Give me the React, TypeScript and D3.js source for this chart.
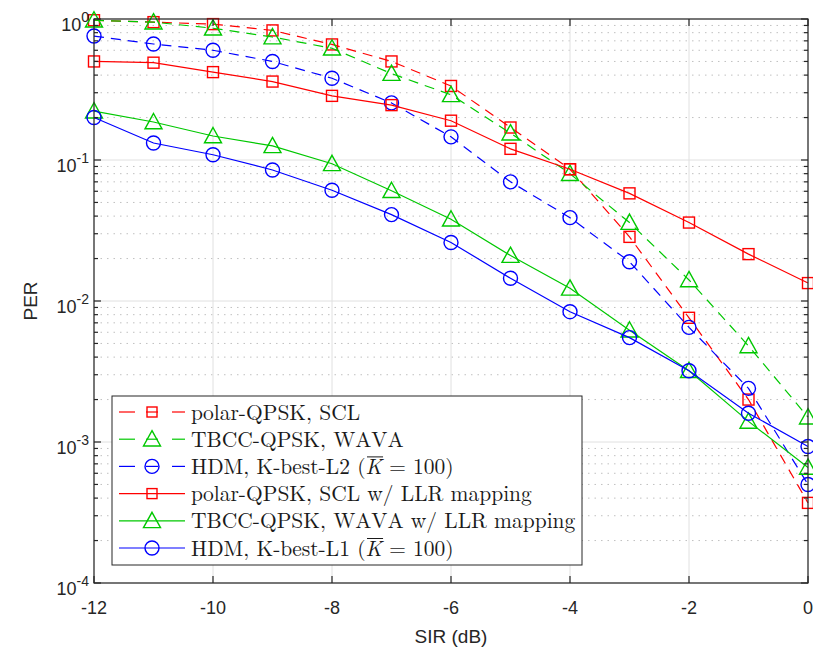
import React, { useEffect, useRef } from "react";
import * as d3 from "d3";

const snr = [-12, -11, -10, -9, -8, -7, -6, -5, -4, -3, -2, -1, 0];
const polarScl = [0.98, 0.95, 0.92, 0.83, 0.66, 0.5, 0.335, 0.17, 0.086, 0.0285, 0.0076, 0.002, 0.00037];
const tbccWava = [0.98, 0.95, 0.86, 0.745, 0.62, 0.41, 0.29, 0.155, 0.08, 0.036, 0.0141, 0.0048, 0.0015];
const hdmL2 = [0.757, 0.665, 0.6, 0.5, 0.38, 0.254, 0.146, 0.07, 0.039, 0.019, 0.0065, 0.0024, 0.0005];
const polarLlr = [0.5, 0.49, 0.42, 0.36, 0.285, 0.245, 0.19, 0.12, 0.086, 0.058, 0.036, 0.0215, 0.0134];
const tbccLlr = [0.222, 0.186, 0.148, 0.126, 0.094, 0.0605, 0.038, 0.021, 0.0123, 0.0062, 0.0032, 0.0014, 0.00066];
const hdmL1 = [0.2, 0.132, 0.109, 0.085, 0.061, 0.041, 0.026, 0.0145, 0.0084, 0.0055, 0.0032, 0.0016, 0.00093];

const xTicks = [-12, -10, -8, -6, -4, -2, 0];
const yExps = [0, -1, -2, -3, -4];

const seriesNames = [
  "polar-QPSK, SCL",
  "TBCC-QPSK, WAVA",
  "HDM, K-best-L2",
  "polar-QPSK, SCL w/ LLR mapping",
  "TBCC-QPSK, WAVA w/ LLR mapping",
  "HDM, K-best-L1",
];

const RED = "#ff0000";
const GREEN = "#00c800";
const BLUE = "#0000ff";

type S = { name: string; data: number[]; color: string; dashed: boolean; marker: string; kbar: boolean };
const series: S[] = [
  { name: seriesNames[0], data: polarScl, color: RED, dashed: true, marker: "square", kbar: false },
  { name: seriesNames[1], data: tbccWava, color: GREEN, dashed: true, marker: "triangle", kbar: false },
  { name: seriesNames[2], data: hdmL2, color: BLUE, dashed: true, marker: "circle", kbar: true },
  { name: seriesNames[3], data: polarLlr, color: RED, dashed: false, marker: "square", kbar: false },
  { name: seriesNames[4], data: tbccLlr, color: GREEN, dashed: false, marker: "triangle", kbar: false },
  { name: seriesNames[5], data: hdmL1, color: BLUE, dashed: false, marker: "circle", kbar: true },
];

const W = 813, H = 652;
const L = 94, R = 808, T = 19, B = 583;

function drawMarker(g: any, kind: string, x: number, y: number, color: string) {
  if (kind === "square") {
    g.append("rect").attr("x", x - 5.5).attr("y", y - 5.5).attr("width", 11).attr("height", 11)
      .attr("fill", "none").attr("stroke", color).attr("stroke-width", 1.4);
  } else if (kind === "circle") {
    g.append("circle").attr("cx", x).attr("cy", y).attr("r", 7)
      .attr("fill", "none").attr("stroke", color).attr("stroke-width", 1.4);
  } else {
    const s = 8.5;
    g.append("path").attr("d", `M${x},${y - s}L${x + s},${y + s * 0.8}L${x - s},${y + s * 0.8}Z`)
      .attr("fill", "none").attr("stroke", color).attr("stroke-width", 1.4);
  }
}

export default function App() {
  const ref = useRef<SVGSVGElement>(null);
  useEffect(() => {
    const svg = d3.select(ref.current);
    svg.selectAll("*").remove();
    const x = d3.scaleLinear().domain([-12, 0]).range([L, R]);
    const y = d3.scaleLog().domain([1e-4, 1]).range([B, T]);

    svg.append("rect").attr("width", W).attr("height", H).attr("fill", "#fff");

    // minor grid
    const minor: number[] = [];
    for (let e = -4; e < 0; e++) for (let m = 2; m <= 9; m++) minor.push(m * Math.pow(10, e));
    const grid = svg.append("g");
    minor.forEach((v) => {
      grid.append("line").attr("x1", L).attr("x2", R).attr("y1", y(v)).attr("y2", y(v))
        .attr("stroke", "#c0c0c0").attr("stroke-width", 1).attr("stroke-dasharray", "1.5,5");
    });
    yExps.forEach((e) => {
      grid.append("line").attr("x1", L).attr("x2", R).attr("y1", y(Math.pow(10, e))).attr("y2", y(Math.pow(10, e)))
        .attr("stroke", "#e0e0e0").attr("stroke-width", 1);
    });
    xTicks.forEach((t) => {
      grid.append("line").attr("x1", x(t)).attr("x2", x(t)).attr("y1", T).attr("y2", B)
        .attr("stroke", "#e0e0e0").attr("stroke-width", 1);
    });

    // series
    const line = d3.line<number>().x((_, i) => x(snr[i])).y((d) => y(d));
    const plot = svg.append("g");
    series.forEach((s) => {
      plot.append("path").attr("d", line(s.data) as string).attr("fill", "none")
        .attr("stroke", s.color).attr("stroke-width", 1.2)
        .attr("stroke-dasharray", s.dashed ? "10,7" : null);
      s.data.forEach((v, i) => drawMarker(plot, s.marker, x(snr[i]), y(v), s.color));
    });

    // axes box
    const ax = svg.append("g").attr("stroke", "#262626").attr("stroke-width", 1.2);
    ax.append("rect").attr("x", L).attr("y", T).attr("width", R - L).attr("height", B - T).attr("fill", "none");
    xTicks.forEach((t) => {
      ax.append("line").attr("x1", x(t)).attr("x2", x(t)).attr("y1", B).attr("y2", B - 7);
      ax.append("line").attr("x1", x(t)).attr("x2", x(t)).attr("y1", T).attr("y2", T + 7);
    });
    yExps.forEach((e) => {
      const yy = y(Math.pow(10, e));
      ax.append("line").attr("x1", L).attr("x2", L + 7).attr("y1", yy).attr("y2", yy);
      ax.append("line").attr("x1", R).attr("x2", R - 7).attr("y1", yy).attr("y2", yy);
    });
    minor.forEach((v) => {
      ax.append("line").attr("x1", L).attr("x2", L + 4).attr("y1", y(v)).attr("y2", y(v));
      ax.append("line").attr("x1", R).attr("x2", R - 4).attr("y1", y(v)).attr("y2", y(v));
    });

    // tick labels
    const tl = svg.append("g").attr("font-family", "'Liberation Sans', Arial, sans-serif").attr("fill", "#262626");
    xTicks.forEach((t) => {
      tl.append("text").attr("x", x(t)).attr("y", B + 31).attr("text-anchor", "middle")
        .attr("font-size", 18).text(String(t));
    });
    yExps.forEach((e) => {
      const yy = y(Math.pow(10, e));
      const t = tl.append("text").attr("x", L - 5).attr("y", yy + 12).attr("text-anchor", "end").attr("font-size", 18);
      t.append("tspan").text("10");
      t.append("tspan").attr("font-size", 14).attr("dy", -9).text(String(e));
    });
    tl.append("text").attr("x", (L + R) / 2).attr("y", 643).attr("text-anchor", "middle").attr("font-size", 19).text("SIR (dB)");
    tl.append("text").attr("transform", `translate(37,${(T + B) / 2}) rotate(-90)`).attr("text-anchor", "middle")
      .attr("font-size", 19).text("PER");

    // legend
    const lg = svg.append("g");
    const lx = 112, ly = 396, lw = 470, lh = 169;
    lg.append("rect").attr("x", lx).attr("y", ly).attr("width", lw).attr("height", lh)
      .attr("fill", "#fff").attr("stroke", "#262626").attr("stroke-width", 1);
    series.forEach((s, i) => {
      const cy = 412 + i * 27.2;
      if (s.dashed) {
        lg.append("line").attr("x1", 119).attr("x2", 135).attr("y1", cy).attr("y2", cy).attr("stroke", s.color).attr("stroke-width", 1.2);
        lg.append("line").attr("x1", 146).attr("x2", 158).attr("y1", cy).attr("y2", cy).attr("stroke", s.color).attr("stroke-width", 1.2);
        lg.append("line").attr("x1", 172).attr("x2", 185).attr("y1", cy).attr("y2", cy).attr("stroke", s.color).attr("stroke-width", 1.2);
      } else {
        lg.append("line").attr("x1", 119).attr("x2", 185).attr("y1", cy).attr("y2", cy).attr("stroke", s.color).attr("stroke-width", 1.2);
      }
      const mk = lg.append("g");
      if (s.marker === "square") {
        mk.append("rect").attr("x", 152 - 5).attr("y", cy - 5).attr("width", 10).attr("height", 10)
          .attr("fill", "none").attr("stroke", s.color).attr("stroke-width", 1.4);
      } else drawMarker(mk, s.marker, 152, cy, s.color);
      const t = lg.append("text").attr("x", 191).attr("y", cy + 7.5)
        .attr("font-family", "'Latin Modern Roman', 'DejaVu Serif', serif").attr("font-size", 21.5)
        .attr("fill", "#1a1a1a").style("font-kerning", "none").style("font-variant-ligatures", "none");
      if (s.kbar) {
        const pre = s.name + " (";
        t.append("tspan").text(pre);
        t.append("tspan").attr("font-style", "italic").text("K");
        t.append("tspan").text(" = 100)");
        const node = t.node() as SVGTextElement;
        try {
          const ext = node.getExtentOfChar(pre.length);
          lg.append("line").attr("x1", ext.x + 1.5).attr("x2", ext.x + ext.width + 1)
            .attr("y1", cy - 9.5).attr("y2", cy - 9.5).attr("stroke", "#1a1a1a").attr("stroke-width", 1);
        } catch (e) {}
      } else {
        t.text(s.name);
      }
    });
  }, []);
  return (
    <div style={{ position: "absolute", left: 0, top: 0 }}>
      <svg ref={ref} width={W} height={H} />
    </div>
  );
}
